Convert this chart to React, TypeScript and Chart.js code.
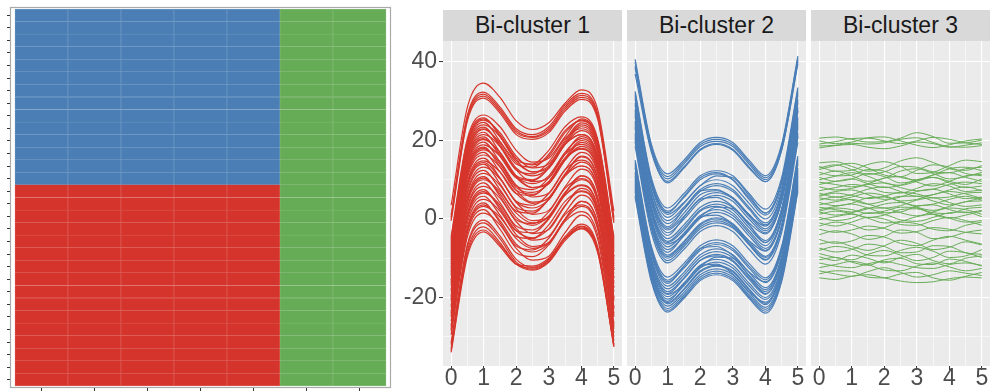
import { useEffect, useRef } from 'react';
import { Chart, registerables } from 'chart.js';

Chart.register(...registerables);

const FONT = "'Liberation Sans', Arial, Helvetica, sans-serif";

// ---------- Heatmap data (rows listed top to bottom, one letter per column) ----------
const heatColumns = ['V1', 'V2', 'V3', 'V4', 'V5', 'V6', 'V7'];
const heatRows = [
  'BBBBBGG', 'BBBBBGG', 'BBBBBGG', 'BBBBBGG', 'BBBBBGG', 'BBBBBGG', 'BBBBBGG',
  'BBBBBGG', 'BBBBBGG', 'BBBBBGG', 'BBBBBGG', 'BBBBBGG', 'BBBBBGG', 'BBBBBGG',
  'RRRRRGG', 'RRRRRGG', 'RRRRRGG', 'RRRRRGG', 'RRRRRGG', 'RRRRRGG', 'RRRRRGG', 'RRRRRGG',
  'RRRRRGG', 'RRRRRGG', 'RRRRRGG', 'RRRRRGG', 'RRRRRGG', 'RRRRRGG', 'RRRRRGG', 'RRRRRGG',
];
const heatFill: Record<string, string> = { B: '#4a7eb5', R: '#d4342b', G: '#66ab56' };
const heatEdge: Record<string, string> = { B: '#86a9cd', R: '#e17771', G: '#98c78e' };

// ---------- Facet data ----------
const facetTitles = ['Bi-cluster 1', 'Bi-cluster 2', 'Bi-cluster 3'];
const facetColors = ['#d6362c', '#4a7eb7', '#69ad59'];
const facetLineWidths = [1.2, 1.2, 1];
const curveX = [0, 0.5, 1, 1.5, 2, 2.5, 3, 3.5, 4, 4.5, 5];
const xTickValues = [0, 0.5, 1, 1.5, 2, 2.5, 3, 3.5, 4, 4.5, 5];
const yTickValues = [-30, -20, -10, 0, 10, 20, 30, 40];

const clusterOneCurves = [
  [3.5, 28.5, 34.6, 31, 25, 22.8, 24.5, 29.5, 32.9, 28, 2],
  [1, 26.5, 32.3, 28.5, 23, 21.5, 23.5, 29, 32, 27, 0.5],
  [0.5, 26, 31.8, 28, 22.5, 21, 23, 28.5, 31.5, 26.5, 0],
  [0, 25.5, 31.3, 27.5, 22, 20.8, 22.5, 28, 31, 26, -0.5],
  [-0.5, 25, 30.8, 27, 21.5, 20.3, 22, 27.5, 30.5, 25.5, -1],
  [-4.5, 20.5, 26.5, 23.5, 17.5, 14.5, 15.5, 21, 25.5, 20, -5],
  [-5, 20, 25.8, 21, 15, 14, 17.5, 23.5, 26, 20.5, -4.5],
  [-5.5, 19.5, 25.5, 21.5, 15.5, 13.8, 16, 22, 25.2, 19.8, -5.5],
  [-6, 19, 25.2, 22, 16, 13, 14, 20, 24.5, 19, -6.5],
  [-6.5, 18.5, 24.6, 19.8, 14, 13.2, 16.5, 22.5, 25, 19.5, -6],
  [-7, 18, 24, 21, 15, 12, 13, 19, 23.5, 18, -7.5],
  [-7.5, 17.5, 23.4, 18.5, 12.5, 11.5, 14.5, 20.5, 23, 17.5, -8],
  [-8, 17, 23, 19, 13, 11, 13, 19, 22.5, 17, -8.5],
  [-8.5, 16.5, 22.8, 19.5, 14.5, 12, 13.5, 19.5, 24, 18.5, -7],
  [-9, 16, 22.1, 17, 11, 10, 13, 19, 21.5, 16, -9.5],
  [-9.5, 15.5, 21.5, 18.5, 12.5, 9.5, 10.5, 16.5, 21, 15.5, -10],
  [-10, 15, 20.9, 16, 10.5, 9.8, 13, 19, 21.5, 16, -9.5],
  [-10.5, 14.5, 20.5, 16.5, 10.8, 9, 11, 17, 20.5, 15, -10.5],
  [-11, 14, 20.2, 17, 11, 8, 9, 15, 19.5, 14, -11.5],
  [-11.5, 13.5, 19.6, 14.5, 8.5, 7.5, 10.5, 16.5, 19, 13.5, -12],
  [-12, 13, 18.9, 16, 10.5, 8, 9.5, 15.5, 20, 14.5, -11],
  [-12.5, 12.5, 18.3, 13.3, 7.3, 6.3, 9.3, 15.3, 17.8, 12.3, -13],
  [-13, 12, 18, 14, 8, 6.8, 9, 15, 18.5, 13, -12.5],
  [-13.5, 11.5, 17.6, 14.6, 8.6, 5.6, 6.6, 12.6, 17, 11.5, -14],
  [-14, 11, 17, 12, 6.5, 6, 9.5, 15.5, 18, 12.5, -13],
  [-14.5, 10.5, 16.3, 13.3, 7.3, 4.3, 5.3, 11.3, 15.8, 10.3, -15],
  [-15.5, 9.5, 15.5, 10.5, 4.5, 3.5, 6.5, 12.5, 15, 9.5, -16],
  [-16, 9, 14.8, 12, 6.5, 4, 5.5, 11.5, 16, 10.5, -15],
  [-16.5, 8.5, 14.4, 10.4, 4.4, 2.8, 5, 11, 14.5, 9, -16.5],
  [-17, 8, 14, 9, 3, 2, 5, 11, 13.5, 8, -17.5],
  [-18, 7, 13.2, 10.2, 4.2, 1.2, 2.2, 8.2, 12.7, 7.2, -18.5],
  [-18.5, 6.5, 12.4, 7.5, 2, 1.5, 5, 11, 13.5, 8, -17.5],
  [-19.5, 5.5, 11.6, 8.6, 2.6, -0.4, 0.6, 6.6, 11, 5.5, -20],
  [-20, 5, 10.8, 5.8, -0.2, -1.2, 1.8, 7.8, 10.3, 4.8, -20.5],
  [-20.5, 4.5, 10.4, 6.4, 0.4, -1.6, 0.8, 6.8, 10, 4.5, -21],
  [-21, 4, 10, 7, 1.5, -1, 0.5, 6.5, 11, 5.5, -20],
  [-22, 3, 9.2, 4.2, -1.8, -2.8, 0.2, 6.2, 8.7, 3.2, -22.5],
  [-22.5, 2.5, 8.3, 5.3, -0.7, -3.7, -2.7, 3.3, 7.8, 2.3, -23],
  [-23.5, 1.5, 7.5, 2.5, -3, -3.5, 0, 6, 8.5, 3, -22.5],
  [-24, 1, 7, 3, -3, -4.8, -2.5, 3.5, 7.2, 1.8, -24],
  [-24.5, 0.5, 6.6, 3.6, -2.4, -5.4, -4.4, 1.6, 6.1, 0.6, -25],
  [-25, 0, 5.8, 1, -4.5, -5, -1.5, 4.5, 7, 1.5, -24.5],
  [-26, -1, 5, 2, -4, -7, -6, 0, 4.5, -1, -26.5],
  [-27, -2, 4.1, -0.9, -6.9, -7.9, -4.9, 1.1, 3.6, -2, -27.5],
  [-27.5, -2.5, 3.6, -0.4, -6.4, -8.4, -6.2, -0.2, 3.2, -2.5, -28],
  [-28, -3, 3.2, 0.5, -5, -7.5, -6, 0, 4.5, -1, -27],
  [-28.5, -3.5, 2.4, -2.6, -8.6, -9.6, -6.6, -0.6, 1.9, -4, -29],
  [-29.5, -4.5, 1.5, -1.5, -7.5, -10.5, -9.5, -3.5, 1, -5, -30],
  [-31.5, -6.5, -0.3, -4.3, -10.3, -12.3, -10.3, -4.5, -1.3, -7, -31],
  [-32, -7, -1, -5, -11, -12.8, -10.8, -5, -1.8, -7.5, -32],
  [-33, -8, -2, -6, -11.5, -13, -11, -5.5, -2.3, -8, -32.5],
  [-33.5, -8.8, -2.8, -6.5, -11.5, -12.5, -10.5, -5, -2, -8, -32],
  [-34, -9.5, -3.3, -7, -11.5, -12, -10, -5, -2.5, -8.5, -32.5],
];

const clusterTwoCurves = [
  [40.7, 19, 11.5, 15, 19.5, 20.8, 19.5, 15, 11, 19, 41.5],
  [40, 18.5, 10.8, 14.5, 19, 20.3, 19, 14.5, 10.5, 18.5, 41],
  [39, 18, 10.2, 14, 18.5, 19.8, 18.5, 14, 10, 18, 40.5],
  [38.5, 17.5, 9.6, 13.3, 17.8, 19.2, 17.8, 13.3, 9.5, 17.5, 40],
  [37, 17, 9.2, 13, 17.5, 19, 17.5, 13, 9.5, 17.5, 39.5],
  [32.5, 10.5, 2.8, 6.5, 11, 12.3, 11, 6.5, 2.5, 10.5, 33.5],
  [32, 10, 2, 5.5, 10, 11.5, 10, 5.5, 1.5, 9.5, 33],
  [31.5, 9.5, 1.6, 5.8, 10.5, 11.8, 10, 5, 1, 9, 32],
  [31, 9, 1.2, 4.2, 8.5, 11, 10.5, 6, 1.5, 9.5, 32.5],
  [30.5, 8.5, 0.4, 4, 8.5, 10, 8.5, 4, 0, 8, 31.5],
  [29.5, 7.5, -0.4, 3, 7.5, 9, 7.5, 3, -1, 7, 30.5],
  [29, 7, -1.2, 2.5, 7, 8.5, 7, 2.5, -1.5, 6.5, 30],
  [28, 6, -2, 2.5, 7.2, 7.5, 5.2, 1, -1.8, 6.5, 29.5],
  [27.5, 5.5, -2.4, 1.5, 6.2, 7.2, 5.5, 1.2, -2.5, 5.5, 28.5],
  [27, 5, -2.8, 0.7, 5.2, 6.7, 5.2, 0.7, -3, 5, 28],
  [26.5, 4.5, -3.5, 0, 4.5, 6, 4.5, 0, -3.5, 4.5, 27.5],
  [26, 4, -4.2, 0.5, 5, 5.5, 3.2, -1, -3.8, 4.5, 27.5],
  [25, 3, -5, -1.5, 3, 4.5, 3, -1.5, -5.5, 2.5, 26],
  [24.5, 2.5, -5.7, -2.2, 2.3, 3.8, 2.3, -2.2, -6, 2, 25.5],
  [24, 2, -6, -2.8, 2, 3.2, 1.5, -3, -6.8, 1.5, 24.5],
  [23.5, 1.5, -6.4, -4, 0.5, 3, 2.7, -1.5, -6, 2.5, 25],
  [23, 1, -7.1, -3.6, 0.9, 2.4, 0.9, -3.6, -7.5, 0.5, 24],
  [22, 0, -7.8, -4.3, 0.2, 1.7, 0.2, -4.3, -8, 0, 23.5],
  [21.5, -0.5, -8.5, -4, 0.5, 1, -1.3, -5.5, -8.2, 0, 23],
  [21, -1, -9.2, -5.7, -1.2, 0.3, -1.2, -5.7, -9.5, -1.5, 22],
  [20.5, -1.5, -9.6, -6, -1.5, 0, -1.6, -6.2, -9.8, -2, 21.5],
  [20, -2, -10, -6.5, -2, -0.5, -2, -6.5, -10.5, -2.5, 21],
  [19.5, -2.5, -10.6, -7, -2.5, -1, -2.3, -6.5, -10.3, -2, 21],
  [18.5, -3.5, -11.2, -7.7, -3.2, -1.7, -3.2, -7.7, -11.5, -3.5, 19.5],
  [15, -7, -14.8, -11.3, -6.8, -5.3, -6.8, -11.3, -15, -7, 16],
  [14.5, -7.5, -15.6, -12, -7.5, -6, -7.5, -12, -15.5, -7.5, 15.5],
  [14, -8, -16, -12.5, -8, -6.5, -8, -12.5, -16.2, -8.5, 14.5],
  [13.5, -8.5, -16.4, -12, -7.5, -7, -9.3, -13.5, -16, -8, 15],
  [13, -9, -17.1, -13.6, -9.1, -7.6, -9.1, -13.6, -17.5, -9.5, 14],
  [12, -10, -17.8, -14.3, -9.8, -8.3, -9.8, -14.3, -18, -10, 13],
  [11.5, -10.5, -18.5, -15, -10.5, -9, -10.5, -15, -18.5, -10.5, 12.5],
  [11, -11, -19, -15.2, -10.6, -9.4, -10.8, -15.4, -19.2, -11.2, 11.5],
  [10.5, -11.5, -19.2, -16.7, -12.2, -9.7, -10, -14.5, -19, -11, 12],
  [10, -12, -19.8, -16.3, -11.8, -10.3, -11.8, -16.3, -20, -12, 11],
  [9.5, -12.5, -20.4, -17, -12.5, -11, -12.5, -17, -20.5, -12.5, 10.5],
  [9, -13, -21, -16.5, -12, -11.5, -14, -18.5, -21.2, -13, 10],
  [8.5, -13.5, -21.3, -17.8, -13.2, -11.8, -13.2, -17.8, -21.5, -13.8, 9],
  [8, -14, -21.6, -18, -13.5, -12, -13.5, -18, -21.8, -13.5, 9.5],
  [7.5, -14.5, -22.2, -18.7, -14.2, -12.7, -14.2, -18.7, -22.5, -14.5, 8.5],
  [7, -15, -22.8, -19.3, -14.8, -13.3, -14.8, -19.3, -23, -15, 8],
  [6, -15.5, -23.3, -19.8, -15.3, -13.8, -15.3, -19.8, -23.5, -15.5, 7.5],
  [5.5, -16, -23.7, -20.2, -15.7, -14.2, -15.7, -20.2, -24, -16, 7],
];

const clusterThreeCurves = [
  [20.6, 20.9, 20.3, 19.6, 19.7, 20.6, 22.0, 21.0, 19.3, 19.4, 20.1],
  [19.9, 19.2, 19.6, 20.7, 20.9, 19.9, 18.8, 18.2, 18.9, 19.9, 20.4],
  [19.1, 19.7, 20.5, 20.6, 19.9, 19.2, 19.9, 20.8, 20.3, 19.4, 19.0],
  [18.6, 18.8, 19.3, 19.1, 19.4, 20.3, 20.7, 19.5, 18.4, 18.3, 18.7],
  [18.1, 18.7, 19.0, 18.3, 17.9, 18.6, 19.6, 19.2, 18.3, 18.8, 19.4],
  [14.3, 14.6, 13.4, 12.2, 13.0, 14.8, 15.6, 14.4, 12.8, 12.4, 13.6],
  [13.4, 12.2, 12.4, 13.9, 14.6, 13.4, 11.6, 11.9, 13.6, 15.0, 14.6],
  [13.0, 13.8, 12.6, 11.4, 12.0, 13.4, 13.2, 12.0, 11.8, 12.8, 13.2],
  [12.6, 13.6, 14.2, 13.0, 11.2, 10.8, 12.4, 13.8, 13.2, 11.6, 11.0],
  [11.9, 11.0, 11.2, 12.6, 12.2, 10.6, 10.0, 11.2, 12.8, 13.2, 12.3],
  [11.2, 12.2, 11.0, 9.6, 10.4, 12.2, 12.8, 11.6, 10.2, 10.8, 11.9],
  [10.6, 9.6, 10.2, 11.6, 10.8, 9.2, 9.8, 11.2, 11.8, 10.6, 9.6],
  [10.0, 10.9, 11.8, 10.9, 9.2, 8.6, 9.6, 10.6, 9.6, 8.8, 10.2],
  [9.4, 8.8, 8.2, 9.0, 10.4, 10.8, 9.4, 8.4, 9.6, 11.0, 11.4],
  [8.8, 9.6, 10.2, 9.0, 8.0, 8.6, 10.0, 10.6, 9.2, 8.0, 8.4],
  [8.2, 7.4, 7.8, 8.8, 9.2, 8.0, 7.2, 7.6, 8.8, 9.4, 9.0],
  [7.2, 8.0, 8.8, 8.2, 6.8, 6.6, 7.8, 9.0, 8.4, 7.0, 7.4],
  [6.6, 5.6, 6.2, 7.6, 8.2, 7.0, 5.8, 6.2, 7.4, 8.2, 7.2],
  [6.0, 7.0, 7.4, 6.2, 5.0, 5.6, 7.0, 7.6, 6.4, 5.2, 5.6],
  [5.8, 6.6, 6.0, 5.2, 5.8, 6.8, 6.4, 5.4, 5.6, 6.6, 6.8],
  [5.4, 4.8, 5.6, 6.6, 6.0, 4.6, 5.0, 6.2, 7.0, 6.4, 5.2],
  [4.8, 5.6, 4.8, 3.8, 4.6, 5.8, 5.8, 4.6, 3.6, 4.4, 5.4],
  [4.2, 3.4, 4.0, 5.4, 5.6, 4.4, 3.4, 3.8, 5.0, 5.8, 4.8],
  [3.6, 4.4, 5.0, 3.8, 2.8, 3.4, 4.8, 5.4, 4.2, 3.2, 3.6],
  [3.0, 2.4, 1.8, 2.6, 3.8, 4.2, 3.0, 2.2, 3.2, 4.4, 4.6],
  [2.4, 3.2, 3.8, 2.8, 1.6, 1.8, 3.2, 3.6, 2.4, 1.6, 2.2],
  [2.0, 2.8, 2.4, 1.4, 2.0, 3.0, 2.8, 1.6, 1.4, 2.6, 3.0],
  [1.8, 1.0, 1.6, 2.8, 2.8, 1.6, 0.8, 1.8, 2.8, 2.4, 1.2],
  [1.2, 2.0, 1.4, 0.4, 1.0, 2.4, 2.6, 1.2, 0.2, 1.0, 2.0],
  [0.4, -0.4, 0.2, 1.6, 1.2, -0.2, -0.6, 0.4, 1.6, 1.8, 0.6],
  [-0.2, 0.6, 1.2, 0.2, -1.0, -0.6, 0.6, 1.2, 0.2, -0.8, -0.4],
  [-1.0, -1.8, -0.8, 0.4, 0.0, -1.4, -1.6, -0.4, 0.4, -0.4, -1.6],
  [-1.8, -0.8, -1.4, -2.8, -2.2, -0.8, -1.2, -2.6, -3.0, -1.6, -0.8],
  [-2.6, -3.4, -2.8, -1.8, -2.4, -3.6, -3.2, -2.2, -2.6, -3.4, -3.8],
  [-4.0, -3.0, -3.8, -5.2, -4.4, -2.8, -3.4, -5.0, -4.6, -3.4, -2.8],
  [-5.2, -6.2, -5.6, -4.2, -4.6, -6.2, -6.8, -5.4, -4.4, -5.4, -6.4],
  [-6.4, -5.8, -7.0, -8.0, -6.8, -5.4, -6.2, -7.8, -7.2, -5.8, -6.6],
  [-7.4, -8.4, -7.8, -6.4, -7.0, -8.6, -8.4, -6.8, -7.0, -8.6, -9.0],
  [-8.0, -7.0, -7.6, -9.2, -9.4, -8.0, -7.2, -8.2, -9.8, -9.4, -7.8],
  [-8.8, -9.8, -10.4, -9.0, -8.0, -9.2, -10.6, -9.8, -8.2, -8.6, -9.8],
  [-9.6, -10.6, -9.2, -10.0, -11.2, -9.8, -9.0, -10.6, -11.4, -10.0, -9.4],
  [-10.4, -9.8, -11.0, -11.8, -10.4, -10.0, -11.4, -11.6, -10.2, -10.8, -12.0],
  [-11.2, -12.0, -12.4, -11.4, -10.8, -11.6, -12.4, -12.6, -11.6, -11.2, -11.8],
  [-12.4, -11.6, -10.8, -11.6, -13.0, -13.2, -12.0, -11.2, -12.2, -13.2, -12.6],
  [-13.2, -14.0, -14.6, -13.4, -12.4, -13.6, -14.8, -14.2, -13.2, -13.8, -14.4],
  [-14.0, -13.2, -13.4, -14.8, -15.0, -14.0, -13.6, -15.0, -15.6, -14.6, -13.6],
  [-15.0, -15.4, -14.6, -14.2, -15.0, -15.8, -16.2, -16.0, -15.2, -14.8, -15.0],
];

const facetCurves = [clusterOneCurves, clusterTwoCurves, clusterThreeCurves];

// ---------- Layout (pixels) ----------
const PANEL_TOP = 41;
const PANEL_BOTTOM_AXIS = 26;
const STRIP_TOP = 10;
const STRIP_HEIGHT = 31;
const facetLayout = [
  { panelLeft: 443, panelWidth: 179, axisWidth: 48 },
  { panelLeft: 627, panelWidth: 179, axisWidth: 0 },
  { panelLeft: 811, panelWidth: 179, axisWidth: 0 },
];

function Heatmap() {
  const ref = useRef<HTMLCanvasElement | null>(null);
  useEffect(() => {
    if (!ref.current) return;
    const bottomUp = [...heatRows].reverse();
    const framePlugin = {
      id: 'heatFrame',
      afterDraw(chart: any) {
        const { ctx, chartArea: a } = chart;
        ctx.save();
        ctx.strokeStyle = '#aaaaaa';
        ctx.lineWidth = 1.2;
        ctx.strokeRect(a.left + 0.5, a.top + 0.5, a.right - a.left - 1, a.bottom - a.top - 1);
        ctx.restore();
      },
    };
    const chart = new Chart(ref.current, {
      type: 'bar',
      data: {
        datasets: bottomUp.map((row) => ({
          data: heatColumns.map((_, j) => ({ x: j + 0.5, y: 1 })),
          backgroundColor: row.split('').map((c) => heatFill[c]),
          borderColor: row.split('').map((c) => heatEdge[c]),
          borderWidth: { top: 0.5, bottom: 0.5, left: 0.5, right: 0.5 },
          borderSkipped: false,
          stack: 'cells',
          barPercentage: 1,
          categoryPercentage: 1,
        })),
      },
      options: {
        animation: false,
        responsive: false,
        events: [],
        layout: { padding: { top: 7, right: 1, bottom: 0, left: 0 } },
        plugins: { legend: { display: false }, tooltip: { enabled: false } },
        scales: {
          x: {
            type: 'linear',
            min: -0.094,
            max: 7.094,
            offset: false,
            stacked: true,
            afterBuildTicks: (s: any) => {
              s.ticks = heatColumns.map((_, j) => ({ value: j + 0.5 }));
            },
            afterFit: (s: any) => {
              s.height = 4;
            },
            ticks: { display: false },
            grid: { drawOnChartArea: false, drawTicks: true, tickLength: 3, tickColor: '#333333', tickWidth: 1, offset: false },
            border: { display: false },
          },
          y: {
            type: 'linear',
            min: -0.16,
            max: 30.16,
            stacked: true,
            afterBuildTicks: (s: any) => {
              s.ticks = heatRows.map((_, i) => ({ value: i + 0.5 }));
            },
            afterFit: (s: any) => {
              s.width = 10;
            },
            ticks: { display: false },
            grid: { drawOnChartArea: false, drawTicks: true, tickLength: 3, tickColor: '#333333', tickWidth: 1 },
            border: { display: false },
          },
        },
      } as any,
      plugins: [framePlugin],
    });
    return () => chart.destroy();
  }, []);
  return (
    <canvas
      ref={ref}
      width={392}
      height={392}
      style={{ position: 'absolute', left: 0, top: 0, width: 392, height: 392 }}
    />
  );
}

function Facet({ index }: { index: number }) {
  const ref = useRef<HTMLCanvasElement | null>(null);
  const { panelLeft, panelWidth, axisWidth } = facetLayout[index];
  const showY = axisWidth > 0;
  useEffect(() => {
    if (!ref.current) return;
    const bgPlugin = {
      id: 'panelBg',
      beforeDraw(chart: any) {
        const { ctx, chartArea: a } = chart;
        ctx.save();
        ctx.fillStyle = '#ebebeb';
        ctx.fillRect(a.left, a.top, a.right - a.left, a.bottom - a.top);
        ctx.restore();
      },
    };
    const isMajorX = (v: number) => Number.isInteger(v);
    const isMajorY = (v: number) => Math.abs(v % 20) === 0;
    const chart = new Chart(ref.current, {
      type: 'line',
      data: {
        datasets: facetCurves[index].map((curve) => ({
          data: curve.map((y, i) => ({ x: curveX[i], y })),
          borderColor: facetColors[index],
          borderWidth: facetLineWidths[index],
          pointRadius: 0,
          fill: false,
          cubicInterpolationMode: 'monotone',
        })),
      },
      options: {
        animation: false,
        responsive: false,
        events: [],
        layout: { padding: { top: PANEL_TOP, right: 0, bottom: 0, left: 0 } },
        plugins: { legend: { display: false }, tooltip: { enabled: false } },
        scales: {
          x: {
            type: 'linear',
            min: -0.25,
            max: 5.25,
            afterBuildTicks: (s: any) => {
              s.ticks = xTickValues.map((v) => ({ value: v }));
            },
            afterFit: (s: any) => {
              s.height = PANEL_BOTTOM_AXIS;
            },
            ticks: {
              autoSkip: false,
              maxRotation: 0,
              callback: (v: any) => (isMajorX(Number(v)) ? String(v) : ''),
              font: { family: FONT, size: 23, lineHeight: 1 },
              color: '#4d4d4d',
              padding: -3,
            },
            grid: {
              color: '#ffffff',
              lineWidth: (c: any) => (c.tick && isMajorX(c.tick.value) ? 1.1 : 0.55),
              tickColor: (c: any) => (c.tick && isMajorX(c.tick.value) ? '#333333' : 'rgba(0,0,0,0)'),
              tickWidth: 1,
              tickLength: 4,
            },
            border: { display: false },
          },
          y: {
            type: 'linear',
            min: -37.45,
            max: 45.35,
            afterBuildTicks: (s: any) => {
              s.ticks = yTickValues.map((v) => ({ value: v }));
            },
            afterFit: (s: any) => {
              s.width = axisWidth;
            },
            ticks: {
              display: showY,
              autoSkip: false,
              callback: (v: any) => (isMajorY(Number(v)) ? String(v) : ''),
              font: { family: FONT, size: 23, lineHeight: 1 },
              color: '#4d4d4d',
              padding: 2,
            },
            grid: {
              color: '#ffffff',
              lineWidth: (c: any) => (c.tick && isMajorY(c.tick.value) ? 1.1 : 0.55),
              tickColor: (c: any) => (c.tick && isMajorY(c.tick.value) ? '#333333' : 'rgba(0,0,0,0)'),
              tickWidth: 1,
              tickLength: 4,
              drawTicks: showY,
            },
            border: { display: false },
          },
        },
      } as any,
      plugins: [bgPlugin],
    });
    return () => chart.destroy();
  }, [index]);
  const canvasLeft = panelLeft - axisWidth;
  const canvasWidth = panelWidth + axisWidth;
  return (
    <>
      <canvas
        ref={ref}
        width={canvasWidth}
        height={392}
        style={{ position: 'absolute', left: canvasLeft, top: 0, width: canvasWidth, height: 392 }}
      />
      <div
        style={{
          position: 'absolute',
          left: panelLeft,
          top: STRIP_TOP,
          width: panelWidth,
          height: STRIP_HEIGHT,
          background: '#d9d9d9',
          color: '#1a1a1a',
          fontFamily: FONT,
          fontSize: 23,
          lineHeight: `${STRIP_HEIGHT}px`,
          textAlign: 'center',
          whiteSpace: 'nowrap',
        }}
      >
        {facetTitles[index]}
      </div>
    </>
  );
}

export default function App() {
  return (
    <div
      style={{
        position: 'absolute',
        left: 0,
        top: 0,
        width: 991,
        height: 392,
        background: '#ffffff',
        overflow: 'hidden',
      }}
    >
      <Heatmap />
      <Facet index={0} />
      <Facet index={1} />
      <Facet index={2} />
    </div>
  );
}
